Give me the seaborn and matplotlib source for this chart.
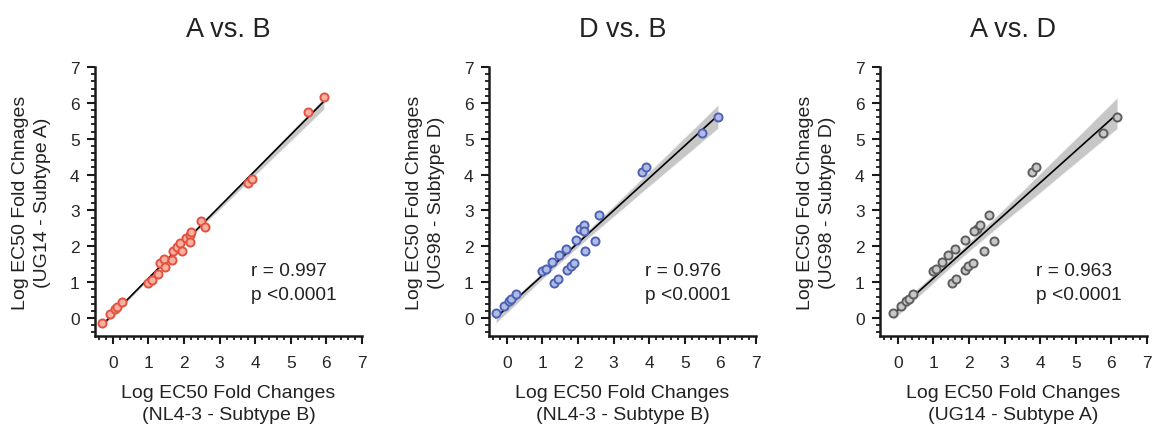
import numpy as np
import pandas as pd
import matplotlib
matplotlib.use("Agg")
import matplotlib.pyplot as plt
from matplotlib.ticker import MultipleLocator
import seaborn as sns

# Log EC50 fold changes per compound, for each subtype
subtype_B = [-0.31, -0.08, 0.07, 0.13, 0.25, 1.00, 1.10, 1.28, 1.32, 1.43, 1.46, 1.66, 1.68,
             1.79, 1.89, 1.93, 2.05, 2.17, 2.17, 2.19, 2.49, 2.59, 3.79, 3.92, 5.49, 5.94]
subtype_A = [-0.13, 0.10, 0.24, 0.32, 0.44, 0.98, 1.06, 1.24, 1.53, 1.64, 1.42, 1.62, 1.88,
             1.98, 2.10, 1.88, 2.22, 2.32, 2.13, 2.41, 2.71, 2.55, 3.77, 3.89, 5.75, 6.17]
subtype_D = [0.14, 0.35, 0.47, 0.54, 0.68, 1.30, 1.38, 1.55, 0.98, 1.10, 1.75, 1.93, 1.33,
             1.45, 1.54, 2.19, 2.47, 2.60, 2.44, 1.87, 2.14, 2.87, 4.08, 4.21, 5.17, 5.60]

titles = ["A vs. B", "D vs. B", "A vs. D"]
x_cols = ["B", "B", "A"]
y_cols = ["A", "D", "D"]
x_labels = ["Log EC50 Fold Changes\n(NL4-3 - Subtype B)",
            "Log EC50 Fold Changes\n(NL4-3 - Subtype B)",
            "Log EC50 Fold Changes\n(UG14 - Subtype A)"]
y_labels = ["Log EC50 Fold Chnages\n(UG14 - Subtype A)",
            "Log EC50 Fold Chnages\n(UG98 - Subtype D)",
            "Log EC50 Fold Chnages\n(UG98 - Subtype D)"]
r_texts = ["r = 0.997", "r = 0.976", "r = 0.963"]
p_texts = ["p <0.0001", "p <0.0001", "p <0.0001"]
face_colors = ["#f7b0a2", "#b0bce4", "#c8c8c8"]
edge_colors = ["#e2533f", "#4d62b5", "#5e5e5e"]
tick_values = [0, 1, 2, 3, 4, 5, 6, 7]

df = pd.DataFrame({"A": subtype_A, "B": subtype_B, "D": subtype_D})

sns.set_theme(style="ticks")
plt.rcParams["font.family"] = ["Liberation Sans", "DejaVu Sans"]

fig = plt.figure(figsize=(11.54, 4.27), dpi=100)
W, H = 1154, 427
lefts = [95, 489, 880]
aw, ah = 267, 269
bottom = 427 - 337

for i in range(3):
    ax = fig.add_axes([lefts[i] / W, bottom / H, aw / W, ah / H])
    sns.regplot(data=df, x=x_cols[i], y=y_cols[i], ax=ax, ci=95, n_boot=1000, seed=0,
                scatter_kws=dict(s=34, facecolor=face_colors[i], edgecolor=edge_colors[i],
                                 linewidths=1.4, alpha=1, zorder=3),
                line_kws=dict(color="black", lw=1.2, zorder=2))
    for coll in ax.collections:
        if isinstance(coll, matplotlib.collections.PolyCollection) and not isinstance(
                coll, matplotlib.collections.PathCollection):
            coll.set_facecolor("#9a9a9a")
            coll.set_alpha(0.55)
            coll.set_zorder(1)
    ax.set_xlim(-0.5, 7)
    ax.set_ylim(-0.5, 7)
    ax.set_xticks(tick_values)
    ax.set_yticks(tick_values)
    ax.xaxis.set_minor_locator(MultipleLocator(0.2))
    ax.yaxis.set_minor_locator(MultipleLocator(0.2))
    ax.tick_params(which="major", length=6, width=1.5, labelsize=12.5, color="#1a1a1a")
    ax.tick_params(axis="x", which="major", pad=8)
    ax.tick_params(axis="y", which="major", pad=5)
    ax.tick_params(which="minor", length=3.2, width=1.3, color="#1a1a1a")
    sns.despine(ax=ax)
    for s in ["left", "bottom"]:
        ax.spines[s].set_linewidth(1.8)
        ax.spines[s].set_color("#1a1a1a")
    ax.set_xlabel(x_labels[i], fontsize=14, labelpad=10, color="#222222", linespacing=1.35)
    ax.set_ylabel(y_labels[i], fontsize=14, labelpad=14, color="#222222", linespacing=1.35)
    ax.set_title(titles[i], fontsize=19.5, pad=22, color="#222222")
    ax.text(3.88, 1.32, r_texts[i], fontsize=13.8, va="center", ha="left", color="#222222")
    ax.text(3.88, 0.66, p_texts[i], fontsize=13.8, va="center", ha="left", color="#222222")

fig.savefig("out.png", dpi=100)
